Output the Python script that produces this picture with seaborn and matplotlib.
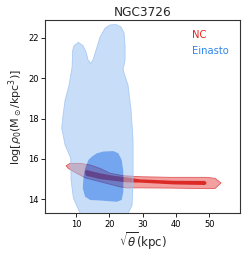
import numpy as np
import seaborn as sns
import matplotlib
matplotlib.use("Agg")
import matplotlib.pyplot as plt
from matplotlib.path import Path
from matplotlib.patches import PathPatch

# contour outlines (x = sqrt(theta) [kpc], y = log rho0)
# Einasto, outer (wide) credible region
ein_outer_x = [11.2, 9.2, 8.5, 8.4, 6.7, 5.7, 6.1, 6.7, 7.9, 8.8, 9.0, 9.4, 10.7, 12.1, 13.0, 13.6,
               14.4, 15.1, 16.0, 17.2, 18.7, 20.2, 22.0, 23.5, 24.4, 24.7, 24.7, 24.1, 25.6, 26.5,
               27.1, 27.1, 26.8, 25.6, 23.2, 14.2]
ein_outer_y = [13.32, 14.06, 14.96, 16.04, 16.69, 17.53, 18.17, 18.90, 19.65, 20.54, 21.38, 21.60,
               21.77, 21.60, 21.29, 20.90, 20.73, 20.90, 21.39, 22.03, 22.47, 22.63, 22.65, 22.53,
               22.23, 21.64, 20.90, 20.40, 19.65, 18.41, 16.92, 14.94, 13.70, 13.32, 13.17, 13.17]
# Einasto, inner credible region
ein_inner_x = [14.7, 16.2, 18.2, 21.2, 22.7, 23.7, 24.2, 24.2, 23.7, 22.2, 18.2, 14.2, 12.7, 12.0,
               12.2, 12.7, 13.7]
ein_inner_y = [16.11, 16.28, 16.37, 16.39, 16.28, 15.95, 15.37, 14.38, 13.97, 13.88, 13.93, 13.97,
               14.13, 14.54, 15.04, 15.53, 15.95]
# NC, outer credible region
nc_outer_x = [7.0, 8.2, 11.2, 14.2, 17.2, 20.2, 24.2, 29.2, 38.2, 49.2, 51.7, 53.5,
              51.7, 49.2, 38.2, 29.2, 25.2, 23.2, 19.2, 15.2, 12.7, 10.2, 7.7]
nc_outer_y = [15.66, 15.78, 15.78, 15.70, 15.53, 15.29, 15.17, 15.12, 15.09, 15.09, 15.04, 14.81,
              14.54, 14.53, 14.56, 14.57, 14.57, 14.62, 14.79, 14.96, 15.07, 15.29, 15.53]
# NC, inner credible region
nc_inner_x = [12.7, 13.2, 17.2, 21.2, 25.2, 29.2, 39.2, 48.7, 49.2,
              48.7, 39.2, 29.2, 25.2, 21.2, 17.2, 13.0, 12.7]
nc_inner_y = [15.42, 15.45, 15.29, 15.17, 15.09, 14.99, 14.92, 14.91, 14.81,
              14.71, 14.74, 14.83, 14.84, 14.92, 15.00, 15.17, 15.30]

models = ["NC", "Einasto"]
model_colors = {"NC": "#e8241c", "Einasto": "#2f86ee"}


def ring_path(outer_x, outer_y, hole_x=None, hole_y=None):
    verts = list(zip(outer_x, outer_y)) + [(outer_x[0], outer_y[0])]
    codes = [Path.MOVETO] + [Path.LINETO] * (len(outer_x) - 1) + [Path.CLOSEPOLY]
    if hole_x is not None:
        hx, hy = hole_x[::-1], hole_y[::-1]
        verts += list(zip(hx, hy)) + [(hx[0], hy[0])]
        codes += [Path.MOVETO] + [Path.LINETO] * (len(hx) - 1) + [Path.CLOSEPOLY]
    return Path(verts, codes)


sns.set_style("ticks")
plt.rcParams["font.family"] = ["DejaVu Sans"]

fig = plt.figure(figsize=(2.49, 2.57), dpi=100)
ax = fig.add_axes([0.181, 0.170, 0.783, 0.751])

# NC drawn first
ax.add_patch(PathPatch(ring_path(nc_outer_x, nc_outer_y), facecolor="#f2a0a0",
                       edgecolor="#e05a5a", lw=0.6, zorder=2))
ax.add_patch(PathPatch(ring_path(nc_inner_x, nc_inner_y), facecolor="#dc2a26",
                       edgecolor="none", zorder=3))

# Einasto on top, semi-transparent
ax.add_patch(PathPatch(ring_path(ein_outer_x, ein_outer_y, ein_inner_x, ein_inner_y),
                       facecolor="#97c0f1", edgecolor="none", alpha=0.53, zorder=4))
ax.plot(ein_outer_x + ein_outer_x[:1], ein_outer_y + ein_outer_y[:1], color="#9cc2f2",
        lw=0.6, alpha=0.8, zorder=4)
ax.add_patch(PathPatch(ring_path(ein_inner_x, ein_inner_y), facecolor="#005de3",
                       edgecolor="none", alpha=0.55, zorder=4))

ax.set_xlim(0.7, 59.2)
ax.set_ylim(13.31, 22.86)
ax.set_xticks([10, 20, 30, 40, 50])
ax.set_yticks([14, 16, 18, 20, 22])
ax.tick_params(labelsize=6, length=3, width=0.6, pad=1.5, colors="black")
for sp in ax.spines.values():
    sp.set_linewidth(0.8)
    sp.set_color("#333333")

ax.set_title("NGC3726", fontsize=8.7, pad=3)
ax.set_xlabel(r"$\sqrt{\theta}$(kpc)", fontsize=8.5, labelpad=1)
ax.set_ylabel(r"log[$\rho_0$(M$_\odot$/kpc$^3$)]", fontsize=8, labelpad=2)

for name, ypos in zip(models, [0.925, 0.84]):
    ax.text(0.755, ypos, name, color=model_colors[name], fontsize=7.2,
            transform=ax.transAxes, va="center", ha="left")

fig.savefig("out.png", dpi=100)
